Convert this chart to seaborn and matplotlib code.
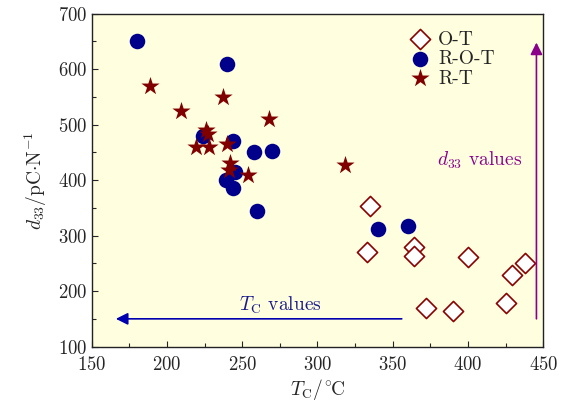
import numpy as np
import pandas as pd
import matplotlib
matplotlib.use("Agg")
import matplotlib.pyplot as plt
import seaborn as sns

# O-T phase boundary
ot_tc = [333, 335, 364, 364, 400, 438, 429, 425, 372, 390]
ot_d33 = [270, 354, 280, 263, 261, 251, 229, 179, 169, 164]

# R-O-T
rot_tc = [180, 240, 224, 244, 258, 270, 245, 239, 244, 260, 340, 360]
rot_d33 = [650, 610, 480, 470, 451, 452, 415, 400, 385, 345, 312, 318]

# R-T
rt_tc = [189, 209, 237, 268, 226, 227, 219, 228, 240, 242, 241, 254, 318]
rt_d33 = [570, 525, 550, 511, 490, 484, 460, 460, 465, 430, 418, 409, 428]

sns.set_style("ticks")
plt.rcParams["font.family"] = ["cmr10", "DejaVu Serif"]
plt.rcParams["mathtext.fontset"] = "cm"
plt.rcParams["axes.formatter.use_mathtext"] = True
plt.rcParams["axes.unicode_minus"] = False

df_ot = pd.DataFrame({"tc": ot_tc, "d33": ot_d33})
df_rot = pd.DataFrame({"tc": rot_tc, "d33": rot_d33})
df_rt = pd.DataFrame({"tc": rt_tc, "d33": rt_d33})

fig = plt.figure(figsize=(5.7, 4.03), dpi=100)
ax = fig.add_axes([0.161, 0.140, 0.792, 0.826])
ax.set_facecolor("#ffffdf")

sns.scatterplot(data=df_ot, x="tc", y="d33", marker="D", s=105, color="white",
                edgecolor="#8b0000", linewidth=1.2, label="O-T", ax=ax, zorder=3)
sns.scatterplot(data=df_rot, x="tc", y="d33", marker="o", s=125, color="#00008b",
                edgecolor="#00008b", linewidth=0, label="R-O-T", ax=ax, zorder=3)
sns.scatterplot(data=df_rt, x="tc", y="d33", marker="*", s=190, color="#800000",
                edgecolor="#800000", linewidth=0, label="R-T", ax=ax, zorder=4)

# arrows
ax.annotate("", xy=(166, 150), xytext=(356, 150),
            arrowprops=dict(arrowstyle="-|>", color="#0000b0", lw=1.2,
                            mutation_scale=18, shrinkA=0, shrinkB=0))
ax.text(275, 175, r"$T_\mathrm{C}$ values", color="#1a1a8c", fontsize=14,
        ha="center", va="center")
ax.annotate("", xy=(445.5, 648), xytext=(445.5, 150),
            arrowprops=dict(arrowstyle="-|>", color="#8b008b", lw=1.2,
                            mutation_scale=18, shrinkA=0, shrinkB=0))
ax.text(408, 435, r"$d_{33}$ values", color="#8b008b", fontsize=14,
        ha="center", va="center")

ax.set_xlim(150, 450)
ax.set_ylim(100, 700)
ax.set_xticks(np.arange(150, 451, 50))
ax.set_yticks(np.arange(100, 701, 100))
ax.set_xticks(np.arange(175, 450, 50), minor=True)
ax.set_yticks(np.arange(150, 700, 100), minor=True)
ax.tick_params(which="both", direction="in", top=False, right=False,
               labelsize=13.5, width=0.8)
ax.tick_params(which="major", length=4)
ax.tick_params(which="minor", length=3)
ax.tick_params(axis="x", which="major", pad=7)
for sp in ax.spines.values():
    sp.set_linewidth(1.0)
    sp.set_color("#222222")

ax.set_xlabel(r"$T_\mathrm{C}/^{\circ}\!\mathrm{C}$", fontsize=14, labelpad=2)
ax.set_ylabel(r"$d_{33}$/pC$\cdot$N$^{-1}$", fontsize=14, labelpad=6)

leg = ax.legend(loc="upper left", bbox_to_anchor=(0.672, 0.99), frameon=False,
                fontsize=14, handletextpad=0.3, labelspacing=0.08,
                borderaxespad=0.3, handlelength=1.2)

fig.savefig("out.png", dpi=100)
